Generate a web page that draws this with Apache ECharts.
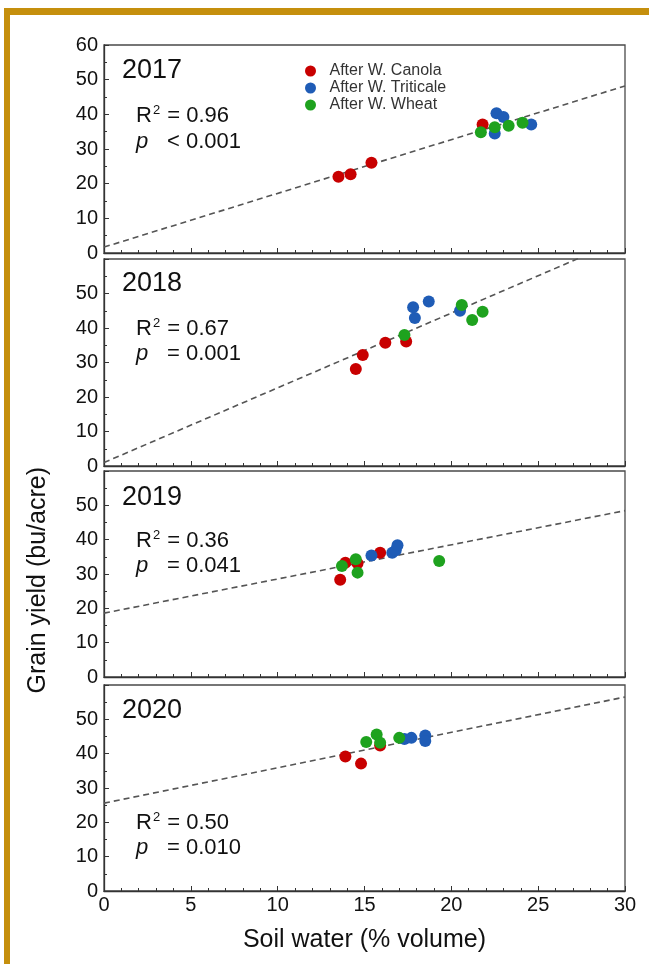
<!DOCTYPE html>
<html>
<head>
<meta charset="utf-8">
<script src="https://cdn.jsdelivr.net/npm/echarts@6/dist/echarts.min.js"></script>
<style>
html,body{margin:0;padding:0;background:#fff;}
#frame{position:absolute;left:4px;top:8px;width:645px;height:956px;border-top:7px solid #C58F0D;border-left:6px solid #C58F0D;box-sizing:border-box;}
#chart{position:absolute;left:0;top:0;width:649px;height:964px;}
</style>
</head>
<body>
<div id="frame"></div>
<div id="chart"></div>
<script>
// ---- Data ----
const years = ['2017', '2018', '2019', '2020'];
const groupNames = ['After W. Canola', 'After W. Triticale', 'After W. Wheat'];
const groupColors = ['#C80000', '#1F5CB6', '#1EA21E'];

const canola2017 = [[13.5, 22.0], [14.2, 22.7], [15.4, 26.0], [21.8, 37.1]];
const triticale2017 = [[22.6, 40.3], [23.0, 39.2], [22.5, 34.5], [24.6, 37.1]];
const wheat2017 = [[21.7, 34.8], [22.5, 36.3], [23.3, 36.7], [24.1, 37.6]];

const canola2018 = [[14.5, 28.1], [14.9, 32.2], [16.2, 35.7], [17.4, 36.1]];
const triticale2018 = [[17.8, 46.0], [17.9, 42.9], [18.7, 47.7], [20.5, 45.0]];
const wheat2018 = [[17.3, 38.0], [20.6, 46.7], [21.2, 42.3], [21.8, 44.7]];

const canola2019 = [[13.6, 28.3], [13.9, 33.3], [14.6, 33.1], [15.9, 36.2]];
const triticale2019 = [[15.4, 35.4], [16.6, 36.2], [16.8, 36.9], [16.9, 38.4]];
const wheat2019 = [[13.7, 32.3], [14.5, 34.3], [14.6, 30.4], [19.3, 33.8]];

const canola2020 = [[13.9, 39.2], [14.8, 37.1], [15.9, 42.4]];
const triticale2020 = [[17.3, 44.3], [17.7, 44.6], [18.5, 45.3], [18.5, 43.7]];
const wheat2020 = [[15.1, 43.4], [15.7, 45.6], [15.9, 43.2], [17.0, 44.6]];

const panelData = [
  [canola2017, triticale2017, wheat2017],
  [canola2018, triticale2018, wheat2018],
  [canola2019, triticale2019, wheat2019],
  [canola2020, triticale2020, wheat2020]
];

// regression lines: intercept and slope for each year
const intercepts = [1.7, 1.0, 18.6, 25.6];
const slopes = [1.55, 2.166, 0.995, 1.03];
const r2Labels = ['0.96', '0.67', '0.36', '0.50'];
const pLabels = ['< 0.001', '= 0.001', '= 0.041', '= 0.010'];

const xTicks = [0, 5, 10, 15, 20, 25, 30];
const yTicks = [0, 10, 20, 30, 40, 50, 60];

// ---- Layout ----
const FONT = "'Liberation Sans', Arial, sans-serif";
const gridTops = [45, 259, 471, 685];
const gridHeights = [208, 207, 206, 206];
const gridLeft = 104, gridWidth = 521;
const yearY = [72, 285, 499, 712];
const r2Y = [116, 329, 541, 823];
const pY = [143, 355, 567, 849];

const chart = echarts.init(document.getElementById('chart'), null, {renderer: 'canvas'});

const grids = [], xAxes = [], yAxes = [], series = [], graphics = [];
for (let i = 0; i < 4; i++) {
  grids.push({left: gridLeft, top: gridTops[i], width: gridWidth, height: gridHeights[i],
    show: true, borderColor: '#4a4a4a', borderWidth: 1.3, backgroundColor: 'transparent'});
  xAxes.push({
    type: 'value', gridIndex: i, min: xTicks[0], max: xTicks[xTicks.length - 1], interval: 5,
    axisLine: {show: true, lineStyle: {color: '#333', width: 1.3}},
    axisTick: {show: true, inside: true, length: 5, lineStyle: {color: '#333'}},
    minorTick: {show: true, splitNumber: 5, length: 3, lineStyle: {color: '#333'}},
    splitLine: {show: false},
    axisLabel: {show: i === 3, fontFamily: FONT, fontSize: 20, color: '#111', margin: 4},
    name: i === 3 ? 'Soil water (% volume)' : '',
    nameLocation: 'middle', nameGap: 37,
    nameTextStyle: {fontFamily: FONT, fontSize: 25, color: '#111'}
  });
  yAxes.push({
    type: 'value', gridIndex: i, min: yTicks[0], max: yTicks[yTicks.length - 1], interval: 10,
    axisLine: {show: true, lineStyle: {color: '#333', width: 1.3}},
    axisTick: {show: true, inside: true, length: 5, lineStyle: {color: '#333'}},
    minorTick: {show: true, splitNumber: 2, length: 3, lineStyle: {color: '#333'}},
    splitLine: {show: false},
    axisLabel: {fontFamily: FONT, fontSize: 20, color: '#111', margin: 6,
      formatter: (i === 0) ? (v => String(v)) : (v => v === 60 ? '' : String(v))}
  });
  const x0 = xTicks[0], x1 = xTicks[xTicks.length - 1];
  series.push({
    type: 'line', xAxisIndex: i, yAxisIndex: i, symbol: 'none', clip: true, silent: true,
    lineStyle: {color: '#555', width: 1.6, type: [6, 4]},
    data: [[x0, intercepts[i] + slopes[i] * x0], [x1, intercepts[i] + slopes[i] * x1]],
    z: 1
  });
  for (let g = 0; g < 3; g++) {
    series.push({
      type: 'scatter', name: groupNames[g], xAxisIndex: i, yAxisIndex: i,
      symbol: 'circle', symbolSize: 12,
      itemStyle: {color: groupColors[g], opacity: 1},
      data: panelData[i][g], z: 3
    });
  }
  graphics.push({type: 'text', left: 122, top: yearY[i] - 15,
    style: {text: years[i], font: '27px ' + FONT, fill: '#111'}});
  graphics.push({type: 'text', left: 136, top: r2Y[i] - 12,
    style: {text: 'R{s|2} = ' + r2Labels[i], font: '22px ' + FONT, fill: '#111',
      rich: {s: {fontSize: 13, fontFamily: FONT, verticalAlign: 'top', padding: [0, 1, 10, 1], fill: '#111'}}}});
  graphics.push({type: 'text', left: 136, top: pY[i] - 12,
    style: {text: 'p', font: 'italic 22px ' + FONT, fill: '#111'}});
  graphics.push({type: 'text', left: 167, top: pY[i] - 12,
    style: {text: pLabels[i], font: '22px ' + FONT, fill: '#111'}});
}

graphics.push({type: 'text', left: 26, top: 467, rotation: Math.PI / 2,
  style: {text: 'Grain yield (bu/acre)', font: '25px ' + FONT, fill: '#111', align: 'center', verticalAlign: 'middle'}});

chart.setOption({
  animation: false,
  grid: grids,
  xAxis: xAxes,
  yAxis: yAxes,
  series: series,
  legend: {
    data: groupNames, orient: 'vertical', left: 300, top: 58,
    icon: 'circle', itemWidth: 28, itemHeight: 11, itemGap: 1,
    textStyle: {fontFamily: FONT, fontSize: 16, color: '#333', lineHeight: 16},
    selectedMode: false
  },
  graphic: graphics
});
</script>
</body>
</html>
